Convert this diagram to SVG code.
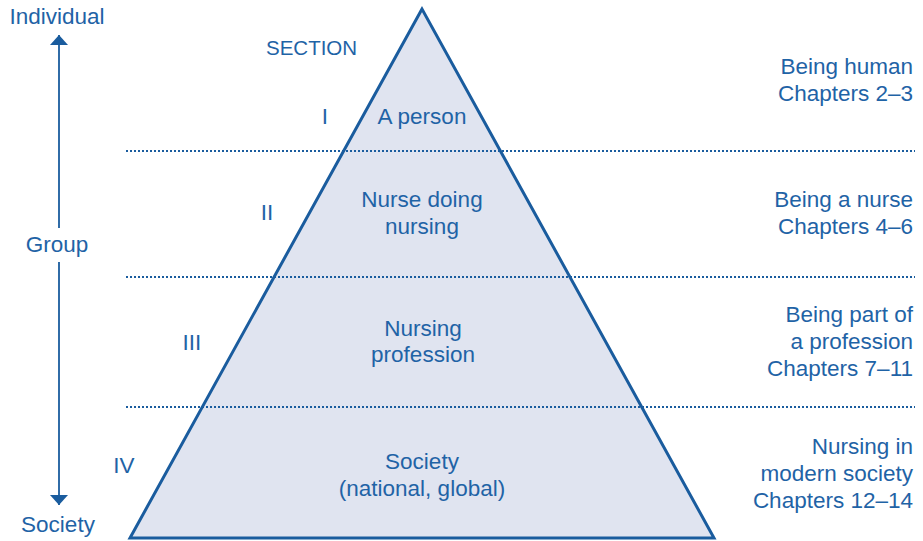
<svg xmlns="http://www.w3.org/2000/svg" width="923" height="541" viewBox="0 0 923 541">
<style>
text{font-family:"Liberation Sans","Arial",sans-serif;font-size:22.5px;fill:#1f63a6}
.c{text-anchor:middle}
.r{text-anchor:end}
.s{font-size:20.5px}
.dot{stroke:#1a5c9e;stroke-width:2;stroke-dasharray:2 2;fill:none}
.ax{stroke:#1a5c9e;stroke-width:1.8;fill:none}
</style>
<defs>
<marker id="ah" viewBox="0 0 10 18" refX="10" refY="9" markerWidth="10" markerHeight="18" markerUnits="userSpaceOnUse" orient="auto">
<path d="M0,0 L10,9 L0,18 z" fill="#1a5c9e"/>
</marker>
</defs>
<g id="pyramid">
<polygon points="422,9 130,538 714,538" fill="#e0e4f0" stroke="#1a5c9e" stroke-width="3" stroke-linejoin="miter"/>
</g>
<g id="connectors">
<line class="dot" x1="126" y1="151" x2="915" y2="151"/>
<line class="dot" x1="126" y1="277" x2="915" y2="277"/>
<line class="dot" x1="126" y1="407" x2="915" y2="407"/>
<line class="ax" x1="59" y1="228" x2="59" y2="35" marker-end="url(#ah)"/>
<line class="ax" x1="59" y1="262" x2="59" y2="505" marker-end="url(#ah)"/>
</g>
<g id="axis-labels">
<text class="c" x="57" y="24">Individual</text>
<text class="c" x="57" y="252">Group</text>
<text class="c" x="58" y="532">Society</text>
</g>
<g id="section-header"><text class="s" x="266" y="55">SECTION</text></g>
<g id="section-1">
<text class="c" x="325" y="124">I</text>
<text class="c" x="422" y="124">A person</text>
<text class="r" x="913" y="74">Being human</text>
<text class="r" x="913" y="101">Chapters 2–3</text>
</g>
<g id="section-2">
<text class="c" x="267" y="220">II</text>
<text class="c" x="422" y="207">Nurse doing</text>
<text class="c" x="422" y="234">nursing</text>
<text class="r" x="913" y="207">Being a nurse</text>
<text class="r" x="913" y="234">Chapters 4–6</text>
</g>
<g id="section-3">
<text class="c" x="192" y="350">III</text>
<text class="c" x="423" y="336">Nursing</text>
<text class="c" x="423" y="362">profession</text>
<text class="r" x="913" y="322">Being part of</text>
<text class="r" x="913" y="349">a profession</text>
<text class="r" x="913" y="376">Chapters 7–11</text>
</g>
<g id="section-4">
<text class="c" x="124" y="473">IV</text>
<text class="c" x="422" y="469">Society</text>
<text class="c" x="422" y="496">(national, global)</text>
<text class="r" x="913" y="454">Nursing in</text>
<text class="r" x="913" y="481">modern society</text>
<text class="r" x="913" y="508">Chapters 12–14</text>
</g>
</svg>
